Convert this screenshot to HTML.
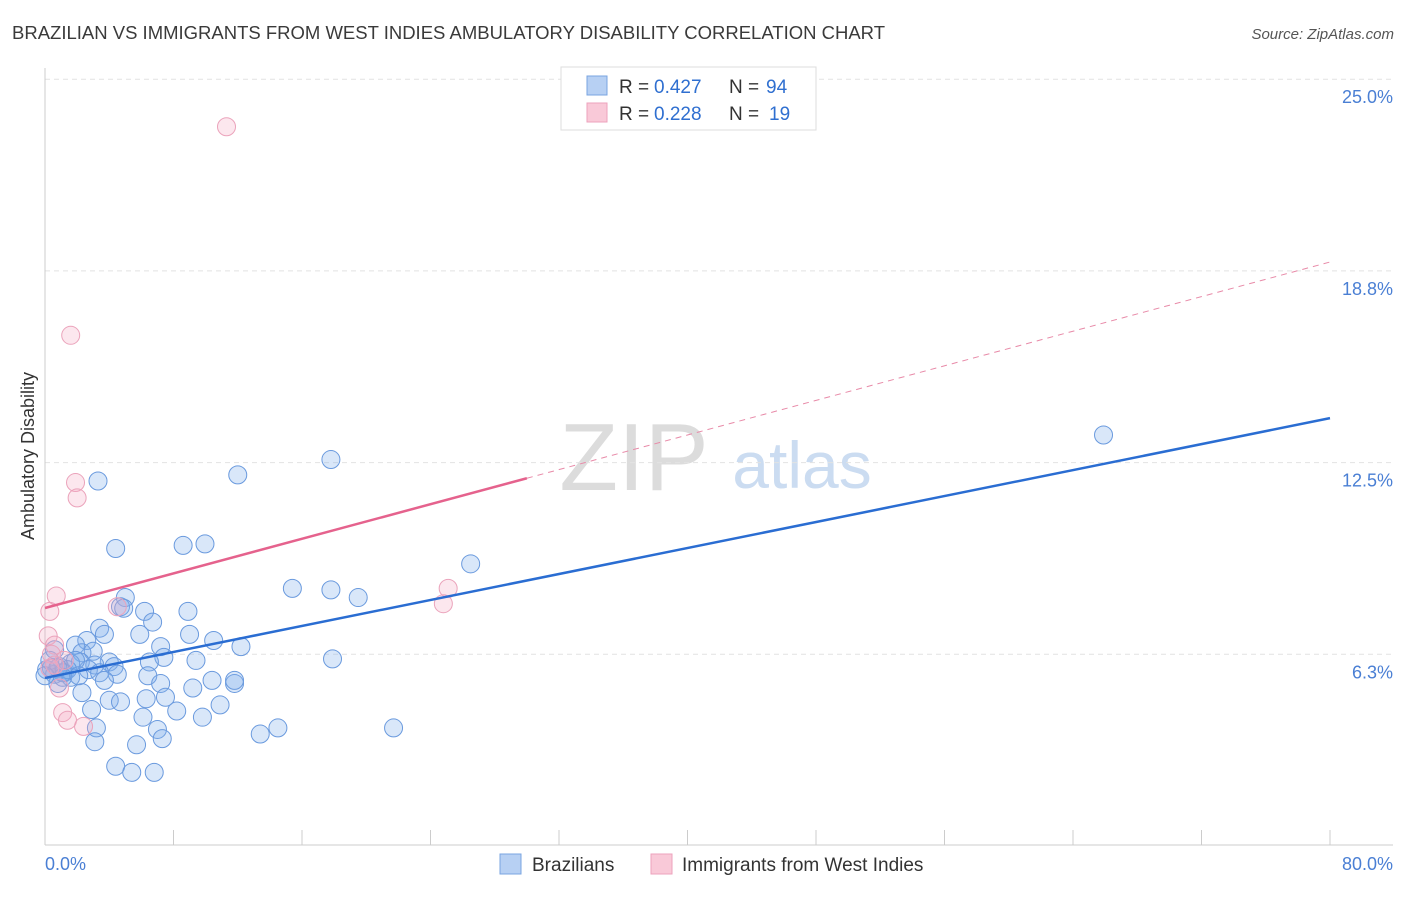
<!DOCTYPE html>
<html><head><meta charset="utf-8"><style>
body{margin:0;background:#fff;font-family:"Liberation Sans",sans-serif}
svg text{font-family:"Liberation Sans",sans-serif}
</style></head><body>
<svg id="chart" width="1406" height="892" viewBox="0 0 1406 892" xmlns="http://www.w3.org/2000/svg">
<text x="12" y="39" font-size="18" fill="#3a3a3a" textLength="873" lengthAdjust="spacingAndGlyphs">BRAZILIAN VS IMMIGRANTS FROM WEST INDIES AMBULATORY DISABILITY CORRELATION CHART</text>
<text x="1394" y="39" font-size="15" fill="#555" text-anchor="end" font-style="italic">Source: ZipAtlas.com</text>
<g>
<text x="634" y="490" font-size="96" fill="#dcdcdc" text-anchor="middle" font-family="Liberation Serif,serif">ZIP</text>
<text x="802" y="488" font-size="66" fill="#cbdcf1" text-anchor="middle">atlas</text>
</g>
<g id="grid"></g>
<g id="axes"></g>
<g id="marks"></g>
<text transform="translate(34,456) rotate(-90)" font-size="18" fill="#333" text-anchor="middle">Ambulatory Disability</text>
<text x="45" y="870" font-size="18" fill="#4a7fd4">0.0%</text>
<text x="1393" y="870" font-size="18" fill="#4a7fd4" text-anchor="end">80.0%</text>
<g>
<rect x="561" y="67" width="255" height="63" fill="#fff" stroke="#ddd"/>
<rect x="587" y="76" width="20" height="19" fill="#b7d0f3" stroke="#7aa4e0"/>
<rect x="587" y="103" width="20" height="19" fill="#f9c9d8" stroke="#eda2bc"/>
<text x="619" y="93" font-size="19" fill="#333">R =</text>
<text x="654" y="93" font-size="19" fill="#2f6fd0">0.427</text>
<text x="729" y="93" font-size="19" fill="#333">N =</text>
<text x="766" y="93" font-size="19" fill="#2f6fd0">94</text>
<text x="619" y="120" font-size="19" fill="#333">R =</text>
<text x="654" y="120" font-size="19" fill="#2f6fd0">0.228</text>
<text x="729" y="120" font-size="19" fill="#333">N =</text>
<text x="769" y="120" font-size="19" fill="#2f6fd0">19</text>
</g>
<g>
<rect x="500" y="854" width="21" height="20" fill="#b7d0f3" stroke="#7aa4e0"/>
<text x="532" y="871" font-size="19" fill="#333">Brazilians</text>
<rect x="651" y="854" width="21" height="20" fill="#f9c9d8" stroke="#eda2bc"/>
<text x="682" y="871" font-size="19" fill="#333">Immigrants from West Indies</text>
</g>
</svg>
<script>
const yTicks=[25.0,18.75,12.5,6.25];
const yTickLabels=["25.0%","18.8%","12.5%","6.3%"];
const xTicks=[0,8,16,24,32,40,48,56,64,72,80];
const blueX=[65.9,17.8,12.0,3.3,4.4,8.6,9.96,26.5,15.4,17.8,19.5,5.0,4.7,4.9,6.2,8.9,6.7,3.4,3.7,5.9,9.0,2.6,10.5,7.2,12.2,1.9,2.3,3.0,7.4,9.4,17.9,6.5,4.0,4.3,2.2,3.1,1.6,0.9,0.4,1.2,0.6,2.7,3.4,4.5,3.7,6.4,7.2,10.4,11.8,11.8,9.2,2.3,4.0,4.7,6.3,7.5,10.9,9.8,8.2,2.9,6.1,7.0,3.2,3.1,7.3,5.7,13.4,14.5,21.7,4.4,5.4,6.8,0.8,1.6,1.1,0.1,0.3,0.6,1.9,1.4,0.8,1.1,0.0,2.1];
const blueY=[13.4,12.6,12.1,11.9,9.7,9.8,9.85,9.2,8.4,8.35,8.1,8.1,7.8,7.75,7.65,7.65,7.3,7.1,6.9,6.9,6.9,6.7,6.7,6.5,6.5,6.55,6.3,6.35,6.15,6.05,6.1,6.0,6.0,5.85,6.0,5.9,5.95,5.85,5.8,5.65,5.6,5.75,5.65,5.6,5.4,5.55,5.3,5.4,5.3,5.4,5.15,5.0,4.75,4.7,4.8,4.85,4.6,4.2,4.4,4.45,4.2,3.8,3.85,3.4,3.5,3.3,3.65,3.85,3.85,2.6,2.4,2.4,5.3,5.5,5.65,5.75,6.05,6.4,6.05,5.75,5.8,5.5,5.55,5.55];
const pinkX=[11.3,1.6,1.9,2.0,0.7,0.3,4.5,25.1,24.8,0.2,0.6,0.4,0.3,0.9,1.1,1.4,2.4,1.2,0.6];
const pinkY=[23.45,16.65,11.85,11.35,8.15,7.65,7.8,8.4,7.9,6.85,6.55,6.25,5.8,5.15,4.35,4.1,3.9,6.05,5.9];
const blueFit=[5.48,13.95];
const pinkFit=[7.76,19.04];
const pinkSolidEnd=30;

const NS="http://www.w3.org/2000/svg";
const X0=45,X1=1330,Y0=846,PXPER=191.7/6.25;
const sx=v=>X0+(v/80)*(X1-X0);
const sy=v=>Y0-v*PXPER;
function mk(tag,attrs,parent){const e=document.createElementNS(NS,tag);for(const k in attrs)e.setAttribute(k,attrs[k]);parent.appendChild(e);return e;}
const grid=document.getElementById('grid'),axes=document.getElementById('axes'),marks=document.getElementById('marks');
yTicks.forEach((t,i)=>{
 const l=mk('line',{x1:45,x2:1393,y1:sy(t),y2:sy(t),stroke:'#e2e2e2','stroke-dasharray':'5,4'},grid);
 
 
 const tx=mk('text',{x:1393,y:sy(t)+24,'font-size':18,fill:'#4a7fd4','text-anchor':'end'},grid);
 tx.textContent=yTickLabels[i];
 
 
});
const ya=mk('line',{x1:45,x2:45,y1:68,y2:845,stroke:'#ccc'},axes);


const xa=mk('line',{x1:45,x2:1393,y1:845,y2:845,stroke:'#ccc'},axes);


xTicks.forEach(t=>{
 const l=mk('line',{x1:sx(t),x2:sx(t),y1:830,y2:845,stroke:'#ccc'},axes);
 
 
});
blueX.forEach((x,i)=>{
 const c=mk('circle',{cx:sx(x),cy:sy(blueY[i]),r:9,fill:'rgba(130,175,235,0.3)',stroke:'#6a9ade','stroke-width':1},marks);
 
 
});
pinkX.forEach((x,i)=>{
 const c=mk('circle',{cx:sx(x),cy:sy(pinkY[i]),r:9,fill:'rgba(245,170,195,0.28)',stroke:'#eba3bb','stroke-width':1},marks);
 
 
});
const fy=(f,x)=>f[0]+(f[1]-f[0])*x/80;
const bl=mk('line',{x1:sx(0),y1:sy(fy(blueFit,0)),x2:sx(80),y2:sy(fy(blueFit,80)),stroke:'#2a6dd2','stroke-width':2.5},marks);


const pl=mk('line',{x1:sx(0),y1:sy(fy(pinkFit,0)),x2:sx(pinkSolidEnd),y2:sy(fy(pinkFit,pinkSolidEnd)),stroke:'#e5628d','stroke-width':2.5},marks);


const pd=mk('line',{x1:sx(pinkSolidEnd),y1:sy(fy(pinkFit,pinkSolidEnd)),x2:sx(80),y2:sy(fy(pinkFit,80)),stroke:'#e88aa8','stroke-width':1,'stroke-dasharray':'6,5'},marks);


</script>
</body></html>
